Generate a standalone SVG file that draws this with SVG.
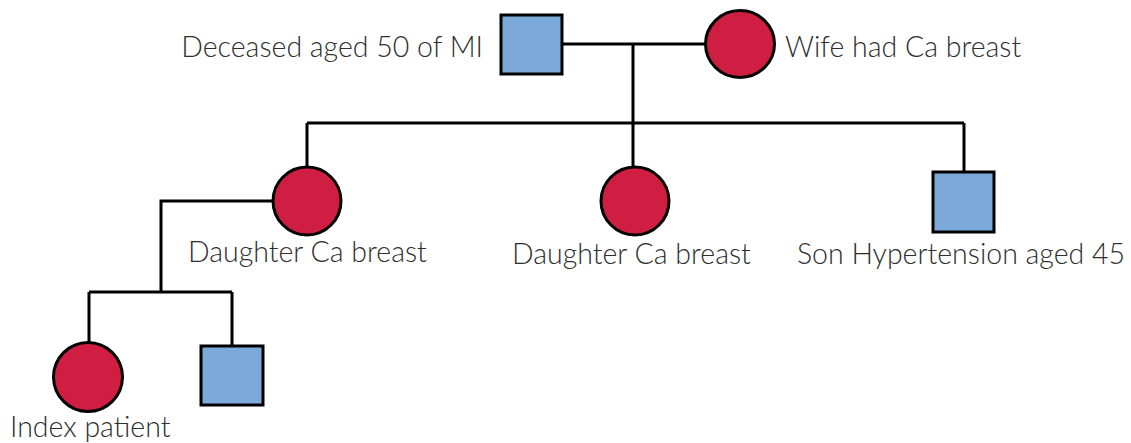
<svg xmlns="http://www.w3.org/2000/svg" width="1131" height="443" viewBox="0 0 1131 443">
<style>
.f{fill:#d01e42;stroke:#000;stroke-width:3}
.m{fill:#7aa9da;stroke:#000;stroke-width:3}
.c{fill:none;stroke:#000;stroke-width:3}
text{font-family:Lato,"Liberation Sans",sans-serif;font-weight:300;font-size:28.5px;fill:#2e2e2e}
</style>
<rect width="1131" height="443" fill="#fff"/>
<g id="connectors">
<path class="c" d="M562 44H705M633 44V123M307 123H964M307 123V168M633 123V168M964 123V172M273 201H161V292M89 292H232M89 292V344M232 292V346"/>
</g>
<g id="grandfather"><rect class="m" x="501" y="15" width="61" height="59"/><text x="483" y="57" text-anchor="end">Deceased aged 50 of MI</text></g>
<g id="grandmother"><ellipse class="f" cx="740" cy="44" rx="34.5" ry="33.5"/><text x="785" y="57">Wife had Ca breast</text></g>
<g id="daughter1"><circle class="f" cx="307" cy="201" r="34"/><text x="188" y="262">Daughter Ca breast</text></g>
<g id="daughter2"><circle class="f" cx="635" cy="201" r="34"/><text x="512" y="264">Daughter Ca breast</text></g>
<g id="son"><rect class="m" x="933" y="172" width="61" height="60"/><text x="797" y="264">Son Hypertension aged 45</text></g>
<g id="index"><circle class="f" cx="88" cy="377" r="34.5"/><text x="10" y="437">Index patient</text></g>
<g id="grandson"><rect class="m" x="201" y="346" width="62" height="59"/></g>
</svg>
